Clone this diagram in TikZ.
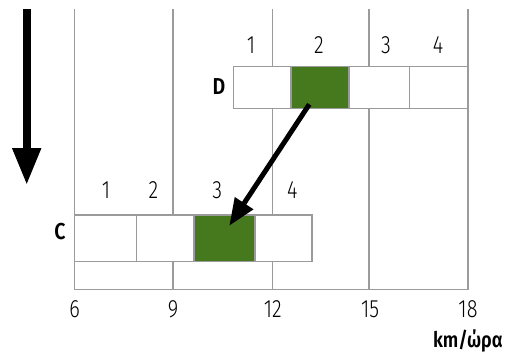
\documentclass[tikz,border=0pt]{standalone}
\usepackage{fontspec}
\setmainfont[FakeStretch=0.8]{Fira Sans Light}
\newfontfamily\boldf[FakeStretch=0.85]{Fira Sans SemiBold}
\usetikzlibrary{arrows.meta}
\definecolor{gridgray}{RGB}{155,155,155}
\definecolor{cellgreen}{RGB}{70,120,30}
\begin{document}
\begin{tikzpicture}[x=1pt,y=-1pt,
  gridline/.style={draw=gridgray,line width=1.3pt},
  cell/.style={draw=gridgray,line width=1.3pt,fill=white},
  greencell/.style={draw=gridgray,line width=1.3pt,fill=cellgreen},
  lbl/.style={font=\fontsize{25}{25}\selectfont,inner sep=0pt,anchor=base},
  blbl/.style={font=\boldf\fontsize{23}{23}\selectfont,inner sep=0pt,anchor=base},
]
\useasboundingbox (0,0) rectangle (506,353);
% grid
\draw[gridline] (74.7,9) -- (74.7,289.7) -- (468,289.7) -- (468,9);
\foreach \x in {173,272.7,369} \draw[gridline] (\x,9) -- (\x,289.7);
\draw[gridline] (74.7,261.3) -- (312,261.3);
% D row
\draw[cell] (233.3,66.3) rectangle (291,108.3);
\draw[greencell] (291,66.3) rectangle (349,108.3);
\draw[cell] (349,66.3) rectangle (409.3,108.3);
\draw[cell] (409.3,66.3) rectangle (468,108.3);
% C row
\draw[cell] (74.7,215) rectangle (136.3,261.3);
\draw[cell] (136.3,215) rectangle (194,261.3);
\draw[greencell] (194,215) rectangle (255,261.3);
\draw[cell] (255,215) rectangle (312,261.3);
% labels D
\node[lbl] (d1) at (251,54) {1};
\node[lbl] (d2) at (319,54) {2};
\node[lbl] (d3) at (386,54) {3};
\node[lbl] (d4) at (438,54) {4};
\node[blbl] (D) at (219,94) {D};
% labels C
\node[lbl] (c1) at (106,198) {1};
\node[lbl] (c2) at (153.3,198) {2};
\node[lbl] (c3) at (217.3,198) {3};
\node[lbl] (c4) at (292.3,198) {4};
\node[blbl] (C) at (60,239) {C};
% axis
\node[lbl] (a6) at (74.7,317) {6};
\node[lbl] (a9) at (173,317) {9};
\node[lbl] (a12) at (272.7,317) {12};
\node[lbl] (a15) at (370,317) {15};
\node[lbl] (a18) at (468,317) {18};
\node[blbl,anchor=base east,font=\boldf\fontsize{21.5}{21.5}\selectfont] (unit) at (503,347) {km/ώρα};
% arrows
\coordinate (ls) at (26.7,9);
\coordinate (le) at (26.7,185);
\draw[line width=8pt,-{Triangle[length=37pt,width=27pt]}] (ls) -- (le);
\coordinate (ds) at (309.3,104.3);
\coordinate (de) at (229.3,225.7);
\draw[line width=5pt,-{Triangle[length=27pt,width=21pt]}] (ds) -- (de);
\end{tikzpicture}
\end{document}
